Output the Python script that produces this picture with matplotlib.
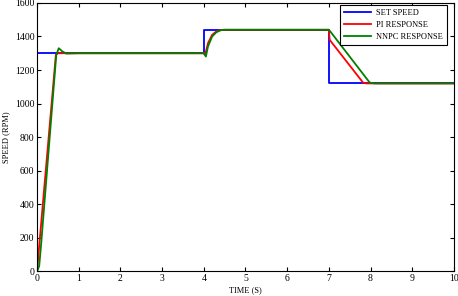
import numpy as np
import matplotlib
matplotlib.use('Agg')
import matplotlib.pyplot as plt

plt.rcParams['font.family'] = ['Liberation Serif', 'DejaVu Serif']

# %% data
set_t = [0, 0, 4, 4, 7, 7, 10]
set_speed = [0, 1300, 1300, 1440, 1440, 1120, 1120]

pi_t = [0, 0.05, 0.45, 0.5, 4.0, 4.03, 4.1, 4.2, 4.3, 4.4, 4.5, 7.0, 7.02, 7.82, 7.9, 10]
pi_speed = [0, 150, 1290, 1300, 1300, 1290, 1360, 1410, 1430, 1438, 1440, 1440, 1380, 1125, 1120, 1120]

nn_t = [0, 0.05, 0.1, 0.46, 0.52, 0.6, 0.7, 1.0, 4.0, 4.05, 4.1, 4.2, 4.3, 4.4, 4.5, 7.0, 7.05, 7.98, 8.1, 10]
nn_speed = [0, 30, 170, 1290, 1330, 1312, 1298, 1300, 1300, 1280, 1340, 1400, 1425, 1437, 1440, 1440, 1425, 1125, 1120, 1120]

# %% plot
fig = plt.figure(figsize=(4.58, 2.96), dpi=100)
ax = fig.add_axes([0.081, 0.084, 0.91, 0.906])
ax.plot(set_t, set_speed, color='#0000ff', lw=1.3, label='SET SPEED')
ax.plot(pi_t, pi_speed, color='#ff0000', lw=1.3, label='PI RESPONSE')
ax.plot(nn_t, nn_speed, color='#008000', lw=1.3, label='NNPC RESPONSE')

ax.set_xlim(0, 10)
ax.set_ylim(0, 1600)
ax.set_xticks(range(0, 11))
ax.set_yticks(range(0, 1601, 200))
ax.tick_params(direction='in', top=True, right=True, labelsize=7, length=3, pad=2)
ax.set_xlabel('TIME (S)', fontsize=6, labelpad=2)
ax.set_ylabel('SPEED (RPM)', fontsize=6, labelpad=3)
leg = ax.legend(loc='upper right', bbox_to_anchor=(0.984, 0.993), fontsize=6, fancybox=False,
                framealpha=1, edgecolor='black', handlelength=3.3, handletextpad=0.6,
                borderpad=0.5, labelspacing=0.45, borderaxespad=0)
leg.get_frame().set_linewidth(0.8)

fig.savefig('out.png', dpi=100)
